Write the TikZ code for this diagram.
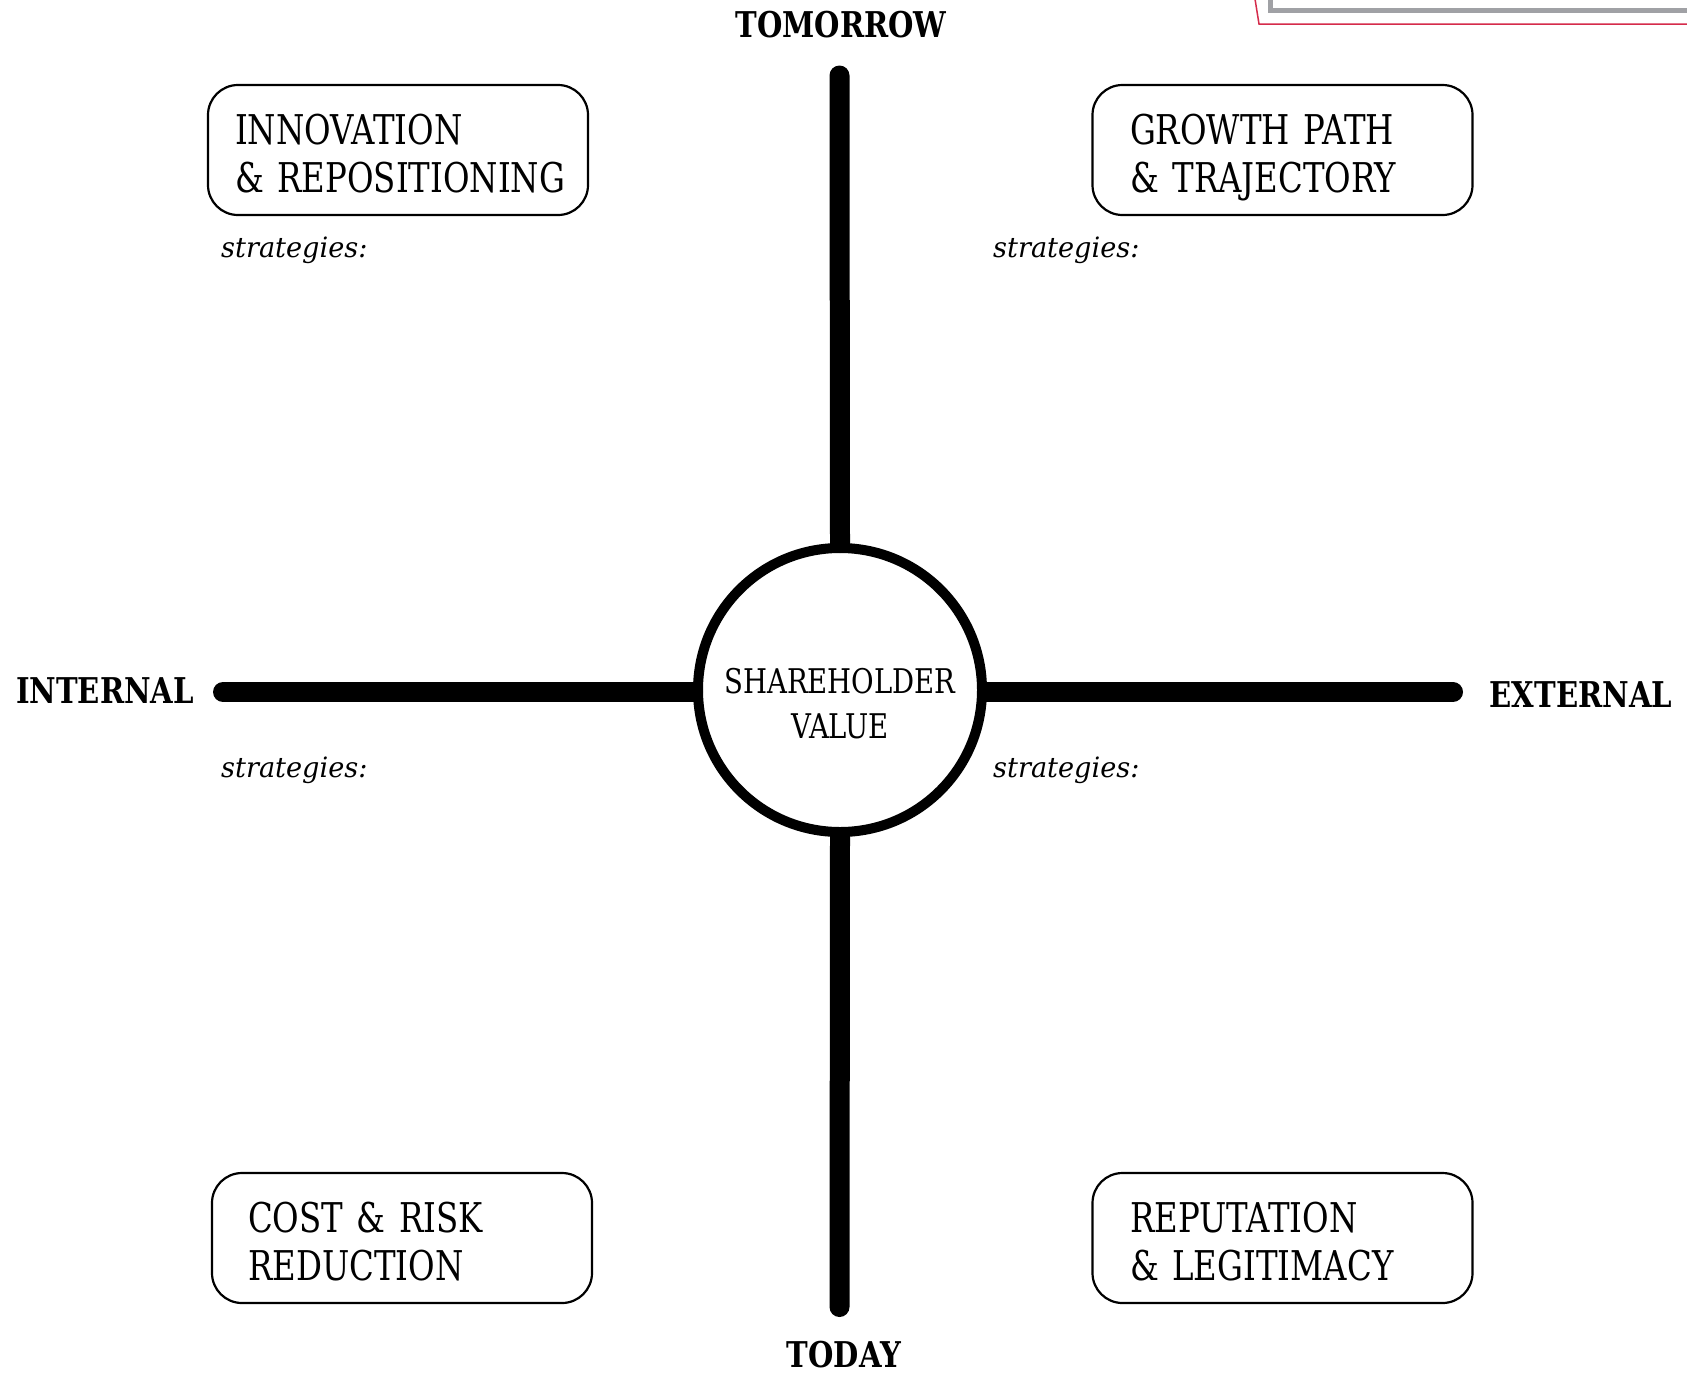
\documentclass[tikz,border=0pt]{standalone}
\usepackage{fontspec}
\newfontfamily\boxfont[FakeStretch=0.79]{DejaVu Serif}
\newfontfamily\labfont[FakeStretch=0.82]{DejaVu Serif}
\newfontfamily\stratfont[FakeStretch=0.97]{DejaVu Serif}
\newfontfamily\centfont[FakeStretch=0.81]{DejaVu Serif}
\newcommand\quadnohyph{\hyphenpenalty 10000\relax}
\definecolor{framegray}{RGB}{160,161,165}
\definecolor{framered}{RGB}{213,43,75}
\tikzset{
  axisline/.style={line width=20pt, line cap=round},
  quadbox/.style={draw, line width=2.2pt, rounded corners=30pt, minimum width=380pt, minimum height=130pt, align=left, anchor=center, font=\boxfont\fontsize{41}{48}\selectfont\quadnohyph, inner ysep=0pt, text height=30pt, text depth=42pt},
  axislabel/.style={font=\labfont\bfseries\fontsize{35.5}{40}\selectfont, inner sep=0pt},
  strat/.style={font=\stratfont\itshape\fontsize{28}{32}\selectfont, inner sep=0pt, anchor=base west},
}
\begin{document}
\begin{tikzpicture}[x=1pt,y=-1pt]
\useasboundingbox[fill=white] (0,0) rectangle (1687,1374);
% corner frame
\draw[framegray, line width=5pt] (1270,-3) -- (1270,10.5) -- (1690,10.5);
\draw[framered, line width=1.5pt] (1255,-1) -- (1259,24) -- (1690,24);
% centre
\node[circle, draw, line width=10pt, minimum size=284pt, inner sep=0pt, text width=250pt, align=center, text height=25pt, text depth=19pt, font=\centfont\fontsize{34}{45}\selectfont] (sv) at (840,690) {SHAREHOLDER\\VALUE};
\coordinate (top) at (839.5,75.5);
\coordinate (bot) at (839.5,1307);
\coordinate (lft) at (223,692);
\coordinate (rgt) at (1453,692);
\draw[axisline] (top) -- (sv.north);
\draw[axisline] (sv.south) -- (bot);
\draw[axisline] (lft) -- (sv.west |- lft);
\draw[axisline] (sv.east |- rgt) -- (rgt);
% axis labels
\node[axislabel] (tomorrow) at (841,25) {TOMORROW};
\node[axislabel] (today) at (844,1355) {TODAY};
\node[axislabel] (internal) at (105,691) {INTERNAL};
\node[axislabel] (external) at (1581,694.5) {EXTERNAL};
% boxes
\node[quadbox, text width=326pt, inner xsep=27pt] (innov) at (398,150) {INNOVATION\\\&~REPOSITIONING};
\node[quadbox, text width=305pt, inner xsep=37pt] (growth) at (1282.5,150) {GROWTH PATH\\\&~TRAJECTORY};
\node[quadbox, text width=308pt, inner xsep=36pt] (cost) at (402,1238) {COST \& RISK\\REDUCTION};
\node[quadbox, text width=305pt, inner xsep=37pt] (rep) at (1282.5,1238) {REPUTATION\\\&~LEGITIMACY};
% strategies
\node[strat] (s1) at (221,257) {strategies:};
\node[strat] (s2) at (993,257) {strategies:};
\node[strat] (s3) at (221,777) {strategies:};
\node[strat] (s4) at (993,777) {strategies:};
\end{tikzpicture}
\end{document}
